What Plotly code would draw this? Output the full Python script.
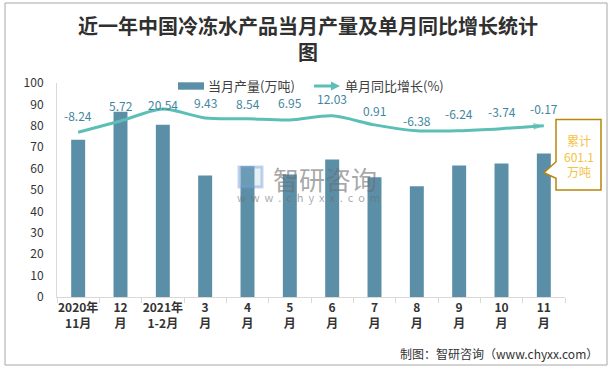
import plotly.graph_objects as go

# ---------------- data ----------------
categories = ["2020年<br>11月", "12<br>月", "2021年<br>1-2月", "3<br>月", "4<br>月", "5<br>月",
              "6<br>月", "7<br>月", "8<br>月", "9<br>月", "10<br>月", "11<br>月"]
output_wt = [73.5, 86.6, 80.5, 56.8, 61.1, 57.2, 64.2, 56.0, 51.8, 61.4, 62.4, 67.0]   # 当月产量(万吨)
yoy_pct = [-8.24, 5.72, 20.54, 9.43, 8.54, 6.95, 12.03, 0.91, -6.38, -6.24, -3.74, -0.17]  # 单月同比增长(%)
yoy_labels = [f"{v:.2f}" for v in yoy_pct]
y_ticks = [0, 10, 20, 30, 40, 50, 60, 70, 80, 90, 100]
title_text = "近一年中国冷冻水产品当月产量及单月同比增长统计<br>图"
cum_text = "累计<br>601.1<br>万吨"
source_text = "制图：智研咨询（www.chyxx.com）"

# label offsets (style only, pixels above each point)
label_shift = [17, 15, 4, 15, 15, 17, 17, 14, 10, 17, 17, 17]

# ---------------- layout helpers ----------------
W_PX, H_PX = 616, 370
L, R, T, B = 57, 51, 83, 73
PW = W_PX - L - R
PH = H_PX - T - B


def px(x):
    return (x - L) / PW


def py(y):
    return (T + PH - y) / PH


FONT = "Noto Sans CJK SC"
BAR_C = "#5b8fa8"
LINE_C = "#5cbfb6"
LABEL_C = "#3f86a0"
LEG_Y = 86

fig = go.Figure()

fig.add_trace(go.Bar(
    x=categories, y=output_wt, name="当月产量(万吨)",
    marker=dict(color=BAR_C, line=dict(width=0)),
    width=0.33, showlegend=False, hoverinfo="x+y",
))

n = len(yoy_pct)
symbols = ["circle"] + ["circle"] * (n - 2) + ["arrow"]
sizes = [9] + [0] * (n - 2) + [11]
colors = ["#f5b321"] + [LINE_C] * (n - 2) + [LINE_C]

fig.add_trace(go.Scatter(
    x=categories, y=yoy_pct, yaxis="y2", name="单月同比增长(%)",
    mode="lines+markers",
    line=dict(color=LINE_C, width=3, shape="spline", smoothing=0.8),
    marker=dict(symbol=symbols, size=sizes, color=colors, angleref="previous",
                line=dict(width=0)),
    showlegend=False,
))

shapes = []
annotations = []

# data labels for the line
for cat, val, lab, sh in zip(categories, yoy_pct, yoy_labels, label_shift):
    annotations.append(dict(xref="x", yref="y2", x=cat, y=val, yshift=sh,
                            text=lab, showarrow=False, xanchor="center", yanchor="middle",
                            font=dict(family=FONT, size=12, color=LABEL_C)))

# outer border
shapes.append(dict(type="rect", xref="paper", yref="paper",
                   x0=px(5), x1=px(607), y0=py(365), y1=py(3),
                   line=dict(color="#a6a6a6", width=1), layer="below"))

# manual legend
shapes.append(dict(type="rect", xref="paper", yref="paper",
                   x0=px(178), x1=px(204), y0=py(LEG_Y + 3.7), y1=py(LEG_Y - 3.7),
                   fillcolor=BAR_C, line=dict(width=0)))
annotations.append(dict(xref="paper", yref="paper", x=px(206), y=py(LEG_Y),
                        text="当月产量(万吨)", showarrow=False, xanchor="left", yanchor="middle",
                        font=dict(family=FONT, size=13, color="#404040")))
shapes.append(dict(type="line", xref="paper", yref="paper",
                   x0=px(314), x1=px(333), y0=py(LEG_Y), y1=py(LEG_Y),
                   line=dict(color=LINE_C, width=3)))
shapes.append(dict(type="path", xref="paper", yref="paper",
                   path=(f"M {px(331)},{py(LEG_Y - 4.5)} L {px(340)},{py(LEG_Y)} "
                         f"L {px(331)},{py(LEG_Y + 4.5)} Z"),
                   fillcolor=LINE_C, line=dict(width=0)))
annotations.append(dict(xref="paper", yref="paper", x=px(343), y=py(LEG_Y),
                        text="单月同比增长(%)", showarrow=False, xanchor="left", yanchor="middle",
                        font=dict(family=FONT, size=13, color="#404040")))

# title
annotations.append(dict(xref="paper", yref="paper", x=px(308), y=py(39),
                        text=title_text, showarrow=False, xanchor="center", yanchor="middle",
                        font=dict(family=FONT, size=20, color="#303030", weight="bold")))

# watermark
shapes.append(dict(type="rect", xref="paper", yref="paper",
                   x0=px(239), x1=px(262), y0=py(187), y1=py(167),
                   line=dict(color="rgba(120,160,210,0.45)", width=3),
                   fillcolor="rgba(160,190,225,0.25)"))
annotations.append(dict(xref="paper", yref="paper", x=px(325), y=py(178),
                        text="智研咨询", showarrow=False, xanchor="center", yanchor="middle",
                        font=dict(family=FONT, size=26, color="rgba(110,110,110,0.6)")))
wm_url = "\u00a0\u00a0".join(list("www.chyxx.com"))
annotations.append(dict(xref="paper", yref="paper", x=px(308), y=py(197),
                        text=wm_url, showarrow=False, xanchor="center", yanchor="middle",
                        font=dict(family=FONT, size=11, color="rgba(110,110,110,0.6)")))

# cumulative callout
shapes.append(dict(type="path", xref="paper", yref="paper",
                   path=(f"M {px(556)},{py(119.5)} L {px(601)},{py(119.5)} L {px(601)},{py(190)} "
                         f"L {px(556)},{py(190)} L {px(556)},{py(178.3)} L {px(544)},{py(172.7)} "
                         f"L {px(556)},{py(161.7)} Z"),
                   fillcolor="white", line=dict(color="#b8860b", width=1.5)))
annotations.append(dict(xref="paper", yref="paper", x=px(578.5), y=py(156),
                        text=cum_text, showarrow=False, xanchor="center", yanchor="middle",
                        font=dict(family=FONT, size=12, color="#f5c242")))

# source
annotations.append(dict(xref="paper", yref="paper", x=px(600), y=py(354),
                        text=source_text, showarrow=False, xanchor="right", yanchor="middle",
                        font=dict(family=FONT, size=12, color="#333333")))

fig.update_layout(
    width=W_PX, height=H_PX,
    margin=dict(l=L, r=R, t=T, b=B, pad=0, autoexpand=False),
    paper_bgcolor="white", plot_bgcolor="white",
    font=dict(family=FONT, size=12, color="#333333"),
    bargap=0.67,
    xaxis=dict(
        type="category", showgrid=False, showline=True, linecolor="#d9d9d9", linewidth=1,
        ticks="outside", tickson="boundaries", ticklen=5, tickcolor="#d9d9d9",
        tickangle=0, automargin=False,
        tickfont=dict(family=FONT, size=12, color="#333333", weight="bold"),
        range=[-0.5, n - 0.5],
    ),
    yaxis=dict(
        range=[0, 100], tickvals=y_ticks, showgrid=False, zeroline=False,
        showline=True, linecolor="#d9d9d9", linewidth=1, automargin=False,
        ticks="outside", ticklen=10, tickcolor="rgba(0,0,0,0)",
        tickfont=dict(family=FONT, size=12, color="#333333"),
    ),
    yaxis2=dict(
        overlaying="y", side="right", range=[-211.6, 52.6], visible=False,
        showgrid=False, zeroline=False, automargin=False,
    ),
    shapes=shapes,
    annotations=annotations,
    showlegend=False,
)

fig.write_html(
    "out.html",
    config={"displayModeBar": False},
    post_script="document.body.style.margin='0';document.body.style.overflow='hidden';",
)
